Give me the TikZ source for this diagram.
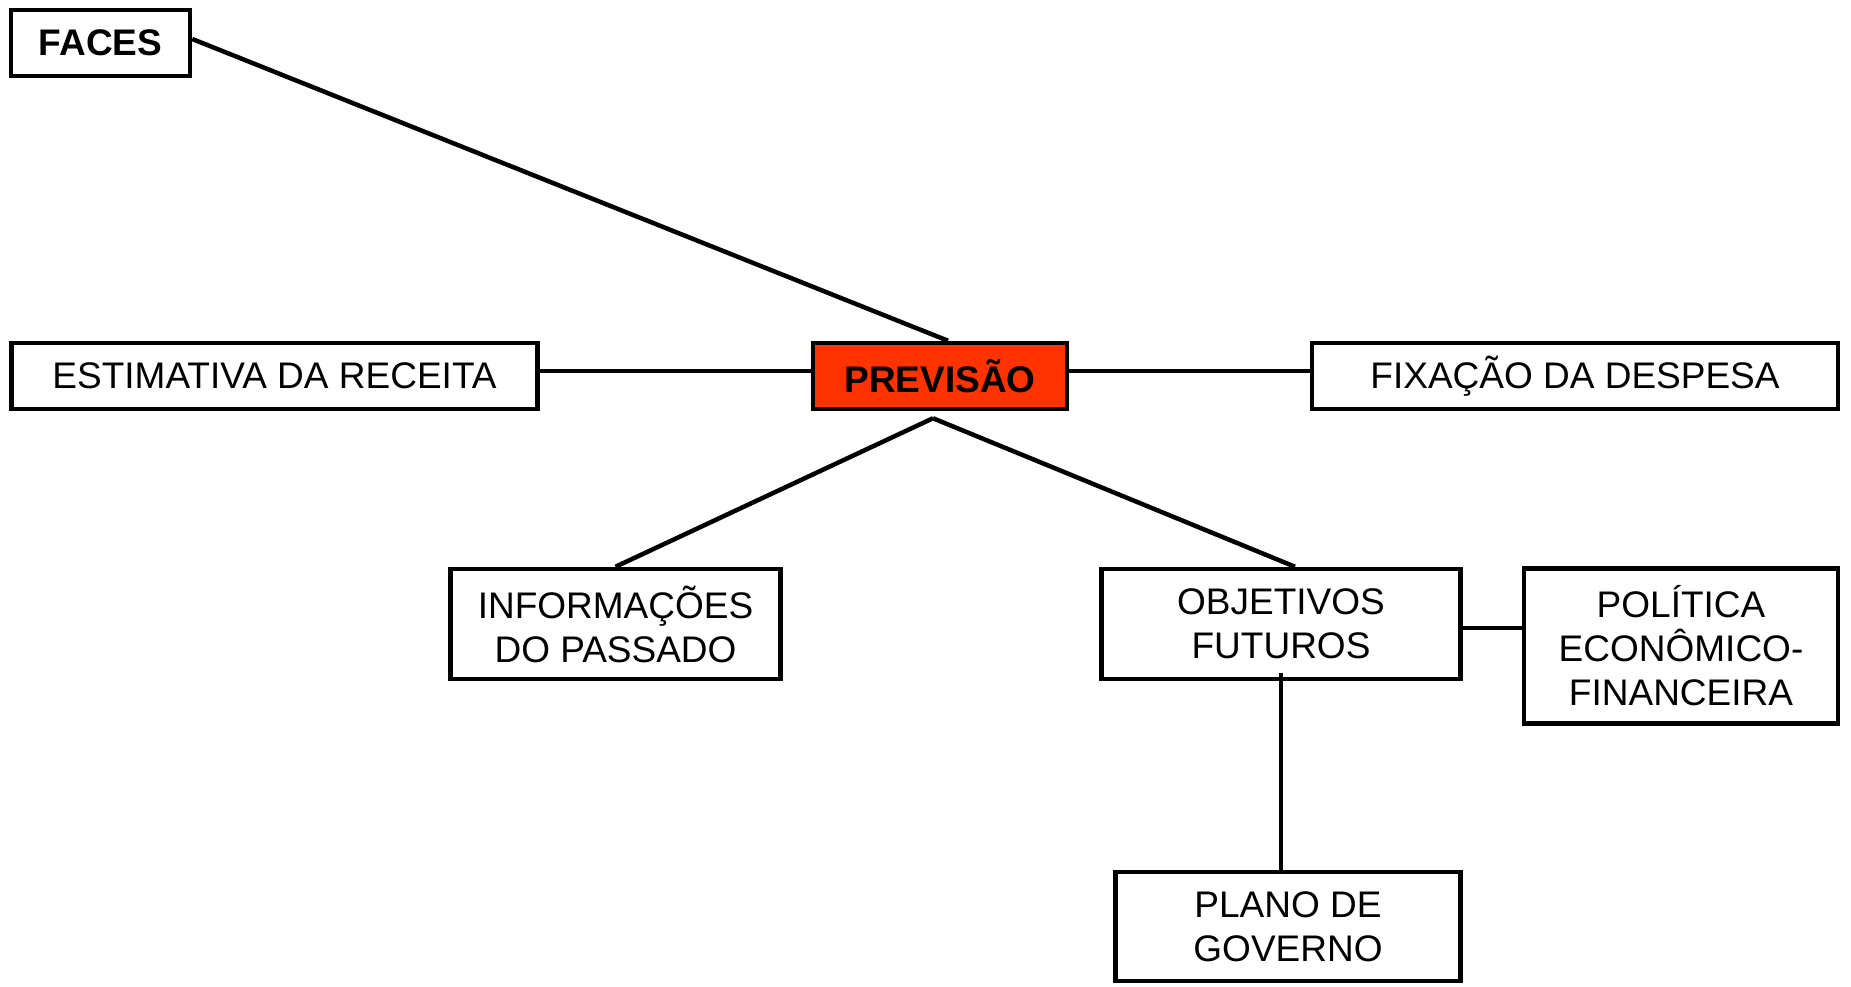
\documentclass[tikz,border=0pt]{standalone}
\usepackage{fontspec}
\setmainfont{Liberation Sans}
\definecolor{prevred}{RGB}{255,51,0}
\begin{document}
\begin{tikzpicture}[x=1pt,y=-1pt,
  box/.style={draw=black,line width=4.5pt,inner sep=0pt,align=center,
    font=\fontsize{37}{44}\selectfont,fill=white},
  link/.style={line width=4.5pt,line cap=butt}]
\useasboundingbox (0,0) rectangle (1851,986);
\node[box,minimum width=179pt,minimum height=66pt,font=\fontsize{37}{44}\selectfont\bfseries] (faces) at (100.5,43) {FACES};
\node[box,minimum width=526pt,minimum height=66pt] (est) at (274.5,376) {ESTIMATIVA DA RECEITA};
\node[box,minimum width=254pt,minimum height=66pt,fill=prevred,font=\fontsize{37}{44}\selectfont\bfseries] (prev) at (940,376) {PREVISÃO};
\node[box,minimum width=526pt,minimum height=66pt] (fix) at (1575,376) {FIXAÇÃO DA DESPESA};
\node[box,minimum width=330pt,minimum height=110pt] (info) at (615.5,624) {INFORMAÇÕES\\DO PASSADO};
\node[box,minimum width=359pt,minimum height=110pt] (obj) at (1281,624) {OBJETIVOS\\FUTUROS};
\node[box,minimum width=314pt,minimum height=155pt] (pol) at (1681,646) {POLÍTICA\\ECONÔMICO-\\FINANCEIRA};
\node[box,minimum width=345pt,minimum height=109pt] (plano) at (1288,926.5) {PLANO DE\\GOVERNO};
\coordinate (apex) at ([xshift=-7pt,yshift=-7pt]prev.south);
\coordinate (objlow) at ([yshift=8pt]obj.south);
\draw[link] ([yshift=4pt]faces.east) -- ([xshift=8pt]prev.north);
\draw[link] ([yshift=5pt]est.east) -- ([yshift=5pt]prev.west);
\draw[link] ([yshift=5pt]prev.east) -- ([yshift=5pt]fix.west);
\draw[link] (apex) -- (info.north);
\draw[link] (apex) -- ([xshift=14pt]obj.north);
\draw[link] ([yshift=-4pt]obj.east) -- ([yshift=-4pt]obj.east -| pol.west);
\draw[link] (objlow) -- (objlow |- plano.north);
\end{tikzpicture}
\end{document}
